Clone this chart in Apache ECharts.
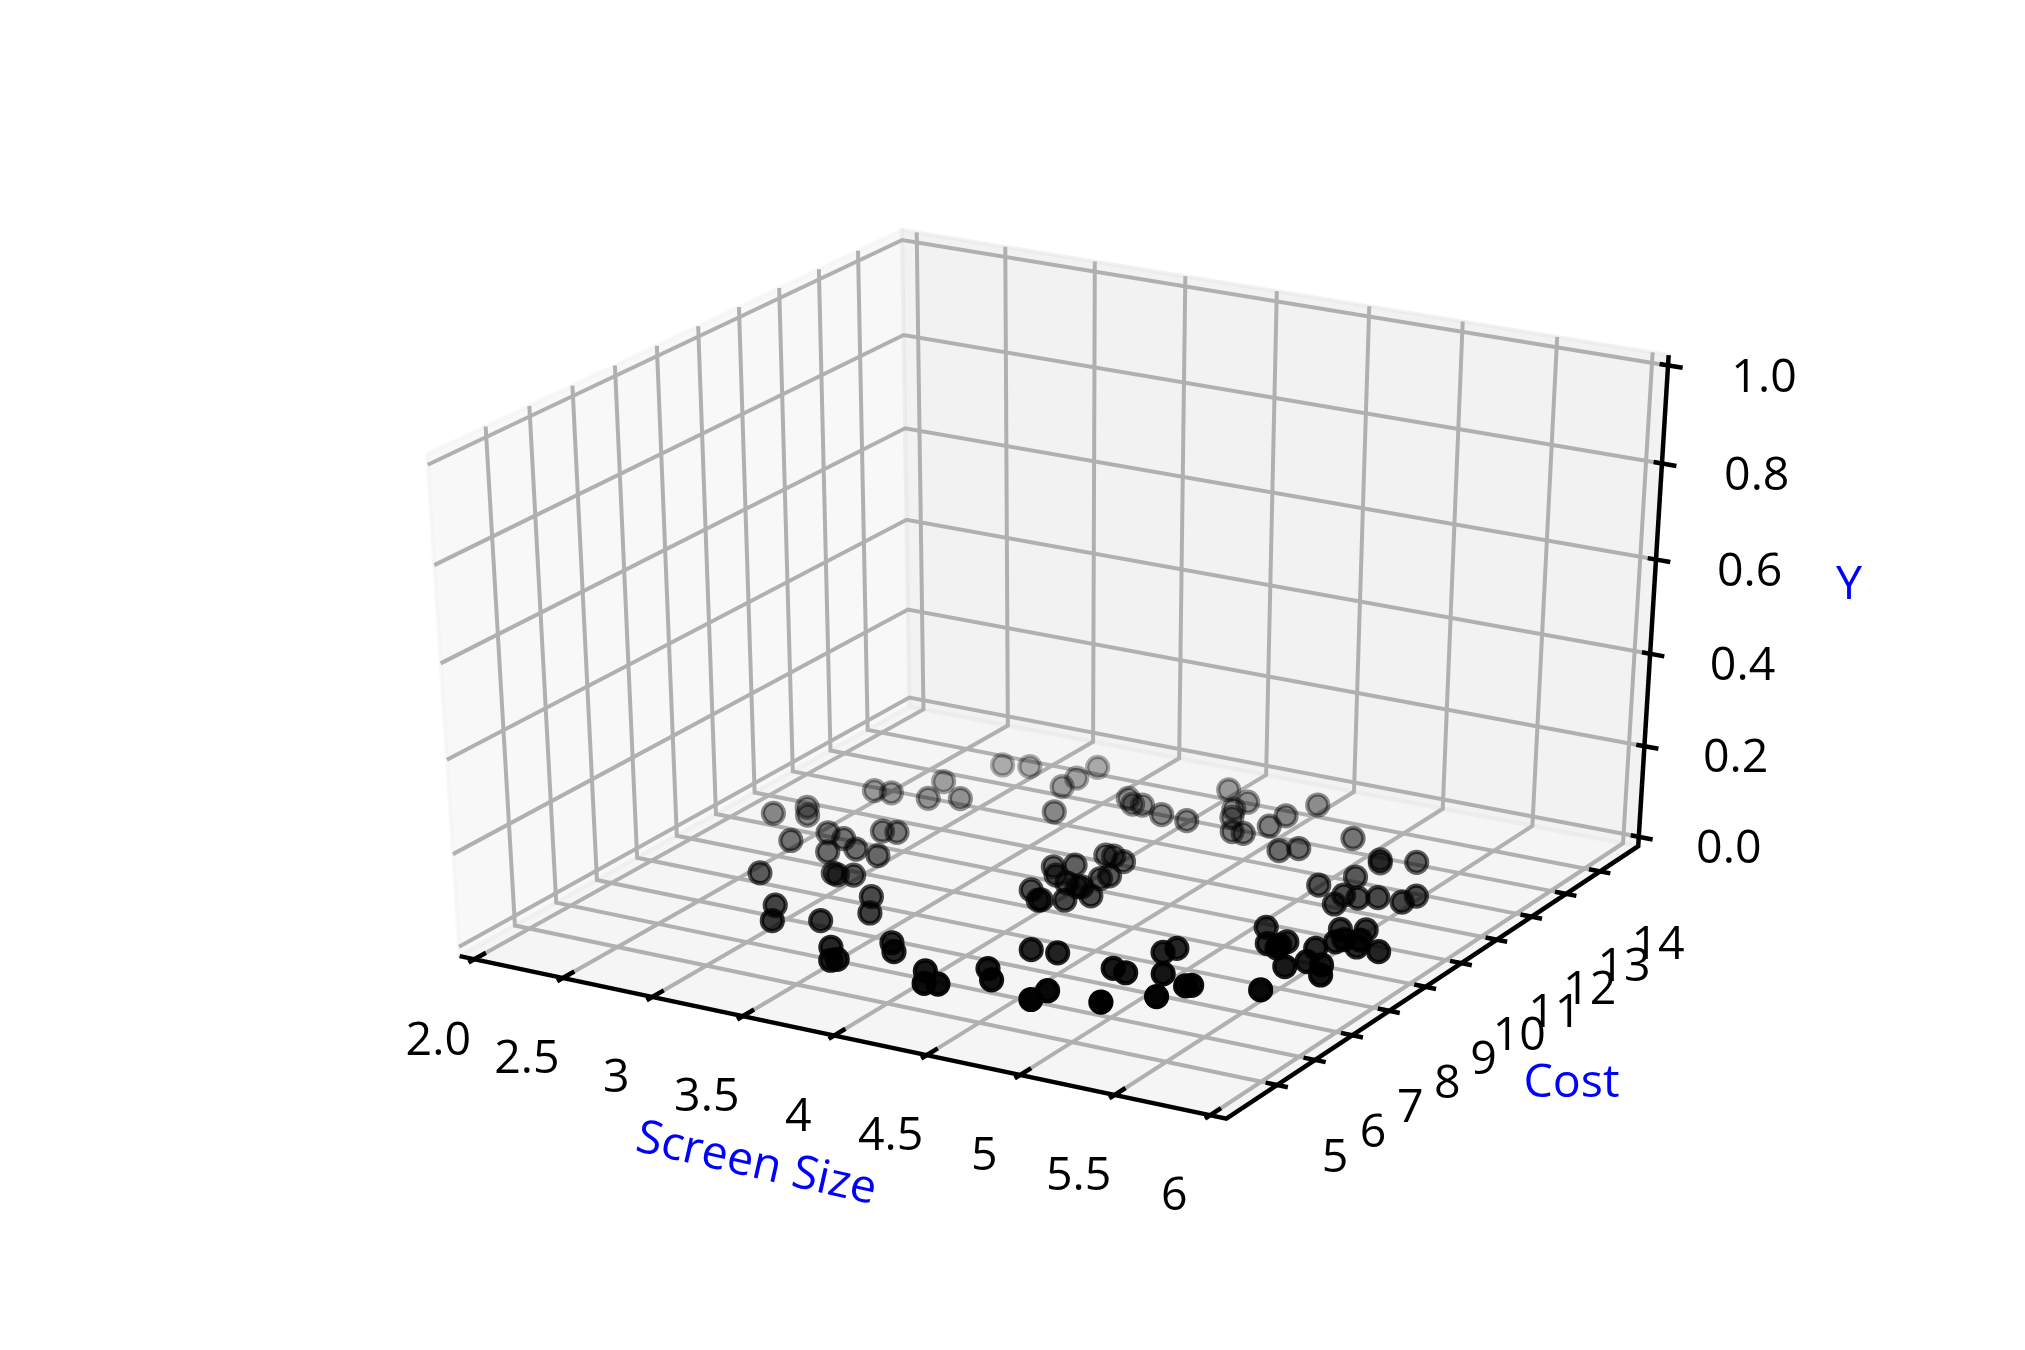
<!DOCTYPE html>
<html>
<head>
<meta charset="utf-8">
<style>html,body{margin:0;background:#fff}#chart{width:2025px;height:1350px}</style>
<script src="https://cdn.jsdelivr.net/npm/echarts@6/dist/echarts.min.js"></script>
</head>
<body>
<div id="chart"></div>
<script>
const screenSize = [
  2.85,2.98,3.27,3.27,3.42,3.28,2.72,2.78,2.92,2.49,2.58,
  2.23,2.33,2.39,2.51,2.61,2.72,2.85,2.75,2.83,2.90,2.99,
  2.62,2.93,2.96,3.03,3.64,3.70,3.75,3.90,4.05,4.01,4.18,
  4.17,4.22,4.32,4.38,4.44,4.44,4.50,4.65,4.72,4.88,5.14,
  5.16,5.31,5.15,5.05,3.99,3.95,4.07,3.81,3.89,3.88,3.98,
  4.05,4.11,4.09,4.07,4.17,3.88,3.98,3.99,4.09,2.92,3.02,
  3.22,3.26,3.37,3.45,3.54,3.56,3.67,3.74,4.00,4.08,4.14,
  4.24,4.33,4.62,4.63,4.29,4.42,4.85,4.88,4.75,4.83,4.99,
  4.92,5.11,5.16,5.18,5.49,5.11,5.22,5.29,5.29,5.28,5.44,
  5.50,5.45,5.58,5.64,5.49,5.43,5.51,5.54,5.58,5.61,5.73,
  5.22,5.24,5.30,5.38,5.51,5.53
]
const cost = [
  13.35,13.48,12.99,13.39,12.06,13.92,12.36,11.67,11.88,11.57,11.61,
  10.10,10.53,10.27,9.30,9.81,9.72,9.45,9.17,10.23,10.29,9.38,
  8.02,8.50,8.47,8.57,13.03,12.86,12.89,12.69,12.65,14.02,13.71,
  13.37,13.07,12.58,12.59,13.02,13.49,14.09,12.24,12.44,13.16,12.60,
  12.50,12.76,11.85,11.33,10.94,10.92,10.82,10.18,10.38,9.92,9.73,
  9.67,10.25,10.10,9.70,9.46,9.26,8.97,9.00,9.15,7.07,6.55,
  6.87,7.98,7.44,6.09,5.68,5.75,6.63,6.36,5.96,5.56,5.63,
  6.44,6.11,5.75,6.13,7.32,7.39,8.09,8.31,7.26,7.20,7.41,
  6.12,6.65,7.17,7.23,7.53,9.58,9.06,8.97,9.24,9.09,8.43,
  8.73,9.22,8.72,8.39,9.56,10.00,9.69,10.15,9.78,9.53,9.52,
  11.16,10.80,11.15,11.30,11.31,11.61
]
const xTicks = [2, 2.5, 3, 3.5, 4, 4.5, 5, 5.5, 6]
const xTickLabels = ['2.0', '2.5', '3', '3.5', '4', '4.5', '5', '5.5', '6']
const yTicks = [5, 6, 7, 8, 9, 10, 11, 12, 13, 14]
const zTicks = [0, 0.2, 0.4, 0.6, 0.8, 1]
const zTickLabels = ['0.0', '0.2', '0.4', '0.6', '0.8', '1.0']

const xLim = [2, 6]
const yLim = [3.91, 14.91]
const zLim = [0, 1]
const PAD = 1 / 48 // panes stick out past the limits

const S = Math.sqrt(3) / 2
const U = [S, 0.5, 0]
const V = [-0.25, S / 2, S]
const N = [S / 2, -0.75, 0.5]
const dot = (a, b) => a[0] * b[0] + a[1] * b[1] + a[2] * b[2]

// elev 30, azim -60, camera at distance 10
function project(x, y, z) {
  const q = [
    (x - xLim[0]) / (xLim[1] - xLim[0]) - 0.5,
    (y - yLim[0]) / (yLim[1] - yLim[0]) - 0.5,
    (z - zLim[0]) / (zLim[1] - zLim[0]) - 0.5
  ]
  const d = 10 - dot(q, N)
  return { p: [1058.4 + 8496 * dot(q, U) / d, 658.5 - 5500 * dot(q, V) / d], d }
}
const pt = (x, y, z) => project(x, y, z).p

const xr = xLim[1] - xLim[0], yr = yLim[1] - yLim[0], zr = zLim[1] - zLim[0]
const x0 = xLim[0] - xr * PAD, x1 = xLim[1] + xr * PAD
const y0 = yLim[0] - yr * PAD, y1 = yLim[1] + yr * PAD
const z0 = zLim[0] - zr * PAD, z1 = zLim[1] + zr * PAD

const panes = [
  { color: 'rgba(242,242,242,0.5)', pts: [pt(x0, y0, z0), pt(x0, y1, z0), pt(x0, y1, z1), pt(x0, y0, z1)] },
  { color: 'rgba(230,230,230,0.5)', pts: [pt(x0, y1, z0), pt(x1, y1, z0), pt(x1, y1, z1), pt(x0, y1, z1)] },
  { color: 'rgba(236,236,236,0.5)', pts: [pt(x0, y0, z0), pt(x1, y0, z0), pt(x1, y1, z0), pt(x0, y1, z0)] }
]

const gridPaths = [
  ...xTicks.map(t => [pt(t, y0, z0), pt(t, y1, z0), pt(t, y1, z1)]),
  ...yTicks.map(t => [pt(x1, t, z0), pt(x0, t, z0), pt(x0, t, z1)]),
  ...zTicks.map(t => [pt(x0, y0, t), pt(x0, y1, t), pt(x1, y1, t)])
]

const axisPaths = [
  [pt(x0, y0, z0), pt(x1, y0, z0), pt(x1, y1, z0), pt(x1, y1, z1)],
  ...xTicks.map(t => [pt(t, y0 - yr * 0.0125, z0), pt(t, y0 + yr * 0.025, z0)]),
  ...yTicks.map(t => [pt(x1 + xr * 0.014, t, z0), pt(x1 - xr * 0.015, t, z0)]),
  ...zTicks.map(t => [pt(x1 + xr * 0.019, y1, t), pt(x1 - xr * 0.011, y1, t)])
]

function offset(p, dx, dy) {
  return [p[0] + dx, p[1] + dy]
}

const labels = [
  ...xTicks.map((t, i) => ({ text: xTickLabels[i], pos: offset(pt(t, y0, z0), -36, 82), color: '#000' })),
  ...yTicks.map(t => ({ text: String(t), pos: offset(pt(x1, t, z0), 58, 74), color: '#000' })),
  ...zTicks.map((t, i) => ({ text: zTickLabels[i], pos: offset(pt(x1, y1, t), 90 + 6 * t, 13), color: '#000' })),
  { text: 'Screen Size', pos: offset(pt(4, y0, z0), -78, 129), color: '#0000ff', rotate: -12.7 },
  { text: 'Cost', pos: offset(pt(x1, 9.5, z0), 128, 109), color: '#0000ff' },
  { text: 'Y', pos: offset(pt(x1, y1, 0.5), 196, -21), color: '#0000ff' }
]

// far points first, fading with depth
const depth = screenSize.map((x, i) => project(x, cost[i], 0).d)
const dMin = Math.min(...depth), dMax = Math.max(...depth)
const points = screenSize
  .map((x, i) => ({ p: pt(x, cost[i], 0), d: depth[i] }))
  .sort((a, b) => b.d - a.d)
  .map(o => {
    const a = 1 - 0.7 * (o.d - dMin) / (dMax - dMin)
    const c = `rgba(0,0,0,${a.toFixed(3)})`
    return { value: o.p, itemStyle: { color: c, borderColor: c, borderWidth: 4.2, opacity: 1 } }
  })

function pathSeries(paths, style, z) {
  return {
    type: 'custom',
    coordinateSystem: 'cartesian2d',
    silent: true,
    clip: false,
    z,
    data: paths.map((_, i) => [i]),
    renderItem: (params, api) => ({
      type: 'polyline',
      shape: { points: paths[params.dataIndex].map(c => api.coord(c)) },
      style: { fill: null, ...style }
    })
  }
}

const chart = echarts.init(document.getElementById('chart'), null, { renderer: 'canvas' })

chart.setOption({
  animation: false,
  backgroundColor: '#fff',
  tooltip: { show: false },
  grid: { left: 0, right: 0, top: 0, bottom: 0 },
  xAxis: { type: 'value', min: 0, max: 2025, show: false },
  yAxis: { type: 'value', min: 0, max: 1350, inverse: true, show: false },
  series: [
    {
      type: 'custom',
      coordinateSystem: 'cartesian2d',
      silent: true,
      clip: false,
      z: 1,
      data: panes.map((_, i) => [i]),
      renderItem: (params, api) => {
        const pane = panes[params.dataIndex]
        return {
          type: 'polygon',
          shape: { points: pane.pts.map(c => api.coord(c)) },
          style: { fill: pane.color, stroke: pane.color, lineWidth: 4 }
        }
      }
    },
    pathSeries(gridPaths, { stroke: '#b0b0b0', lineWidth: 4 }, 2),
    pathSeries(axisPaths, { stroke: '#000', lineWidth: 4.5 }, 3),
    {
      type: 'scatter',
      silent: true,
      clip: false,
      z: 4,
      symbol: 'circle',
      symbolSize: 21,
      data: points
    },
    {
      type: 'custom',
      coordinateSystem: 'cartesian2d',
      silent: true,
      clip: false,
      z: 5,
      data: labels.map((_, i) => [i]),
      renderItem: (params, api) => {
        const l = labels[params.dataIndex]
        const c = api.coord(l.pos)
        return {
          type: 'text',
          x: c[0],
          y: c[1],
          rotation: (l.rotate || 0) * Math.PI / 180,
          style: {
            text: l.text,
            fill: l.color,
            font: "46.5px 'Open Sans'",
            align: 'center',
            verticalAlign: 'middle'
          }
        }
      }
    }
  ]
})
</script>
</body>
</html>
